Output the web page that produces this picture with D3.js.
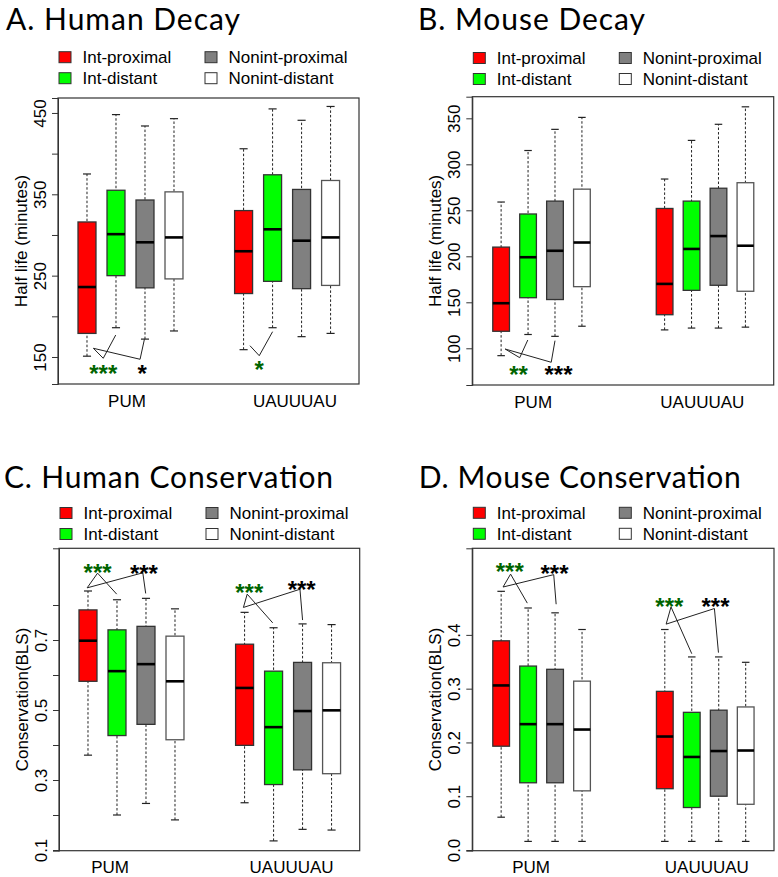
<!DOCTYPE html>
<meta charset="utf-8">
<head>
<style>
  body { margin: 0; background: #fff; }
  svg text { font-family: "Liberation Sans", Arial, sans-serif; }
</style>
</head>
<body>
<script src="https://d3js.org/d3.v7.min.js"></script>
<script>
var groups = ["PUM", "UAUUUAU"];
var series = ["Int-proximal", "Int-distant", "Nonint-proximal", "Nonint-distant"];
var seriesColors = ["#ff0000", "#00ff00", "#808080", "#ffffff"];

// each box: [lower whisker, Q1, median, Q3, upper whisker]; 4 boxes for PUM then 4 for UAUUUAU
var humanDecay = [
  [151, 179, 236, 316, 375],
  [186, 250, 301, 355, 448],
  [172, 235, 291, 343, 434],
  [182, 246, 297, 353, 443],
  [159, 228, 280, 330, 406],
  [186, 243, 307, 374, 455],
  [175, 234, 293, 356, 441],
  [179, 238, 297, 367, 458]
];
var mouseDecay = [
  [92, 118.5, 149, 210, 259],
  [115, 155, 199, 246, 315],
  [113, 153, 206, 260, 338],
  [124, 167, 215, 273, 351],
  [120, 136.5, 170, 252, 284],
  [122, 163, 208, 260, 326],
  [122, 168.5, 222, 274, 343.5],
  [123, 162, 211.5, 280, 362.5]
];
var humanCons = [
  [0.371, 0.582, 0.698, 0.786, 0.840],
  [0.200, 0.427, 0.611, 0.729, 0.815],
  [0.233, 0.459, 0.631, 0.739, 0.819],
  [0.186, 0.415, 0.582, 0.711, 0.789],
  [0.235, 0.399, 0.563, 0.688, 0.779],
  [0.126, 0.287, 0.451, 0.611, 0.735],
  [0.159, 0.329, 0.497, 0.636, 0.746],
  [0.157, 0.318, 0.499, 0.635, 0.744]
];
var mouseCons = [
  [0.061, 0.193, 0.306, 0.389, 0.481],
  [0.016, 0.125, 0.234, 0.342, 0.450],
  [0.016, 0.125, 0.234, 0.336, 0.441],
  [0.016, 0.110, 0.224, 0.314, 0.410],
  [0.016, 0.114, 0.211, 0.295, 0.410],
  [0.016, 0.079, 0.173, 0.256, 0.359],
  [0.016, 0.100, 0.184, 0.260, 0.359],
  [0.016, 0.085, 0.185, 0.266, 0.349]
];

var humanDecayTicks = [150, 200, 250, 300, 350, 400, 450];
var humanDecayTickLabels = ["150", "", "250", "", "350", "", "450"];
var mouseDecayTicks = [100, 150, 200, 250, 300, 350];
var mouseDecayTickLabels = ["100", "150", "200", "250", "300", "350"];
var humanConsTicks = [0.1, 0.2, 0.3, 0.4, 0.5, 0.6, 0.7, 0.8];
var humanConsTickLabels = ["0.1", "", "0.3", "", "0.5", "", "0.7", ""];
var mouseConsTicks = [0.0, 0.1, 0.2, 0.3, 0.4];
var mouseConsTickLabels = ["0.0", "0.1", "0.2", "0.3", "0.4"];

// significance brackets, in box-position units and data values
var humanDecaySig = [
  {vertex: [1.22, 160.7], comps: [
    {corner: [1.56, 148.4], end: [1.99, 177], stars: "***", green: true, at: [1.56, 136.5]},
    {corner: [2.83, 147.2], end: [2.98, 171.8], stars: "*", green: false, at: [2.9, 136.5]}]},
  {vertex: [6.62, 163.9], comps: [
    {corner: [6.94, 151.6], end: [7.40, 181.1], stars: "*", green: true, at: [6.94, 142.3]}]}
];
var mouseDecaySig = [
  {vertex: [1.15, 99.2], comps: [
    {corner: [1.69, 89.8], end: [1.99, 109], stars: "**", green: true, at: [1.65, 77.5]},
    {corner: [2.86, 84.8], end: [3.0, 108.3], stars: "***", green: false, at: [3.13, 77.5]}]}
];
var humanConsSig = [
  {vertex: [0.97, 0.849], comps: [
    {corner: [1.33, 0.891], end: [1.99, 0.831], stars: "***", green: true, at: [1.33, 0.909]},
    {corner: [2.89, 0.892], end: [2.99, 0.833], stars: "***", green: false, at: [2.93, 0.906]}]},
  {vertex: [6.36, 0.793], comps: [
    {corner: [6.49, 0.831], end: [7.37, 0.749], stars: "***", green: true, at: [6.56, 0.852]},
    {corner: [8.31, 0.845], end: [8.40, 0.757], stars: "***", green: false, at: [8.37, 0.862]}]}
];
var mouseConsSig = [
  {vertex: [1.07, 0.489], comps: [
    {corner: [1.35, 0.513], end: [1.97, 0.459], stars: "***", green: true, at: [1.32, 0.529]},
    {corner: [2.95, 0.512], end: [3.04, 0.457], stars: "***", green: false, at: [2.98, 0.525]}]},
  {vertex: [7.12, 0.420], comps: [
    {corner: [7.30, 0.452], end: [8.07, 0.365], stars: "***", green: true, at: [7.24, 0.464]},
    {corner: [8.91, 0.449], end: [9.06, 0.367], stars: "***", green: false, at: [8.95, 0.464]}]}
];

var posNarrow = [1, 2, 3, 4, 6.4, 7.4, 8.4, 9.4];
var posWide = [1, 2, 3, 4, 7.07, 8.07, 9.07, 10.07];

var panels = [
  {title: "A. Human Decay", titleX: 6, titleY: 30, titleW: 234,
   box: humanDecay, ticks: humanDecayTicks, tickLabels: humanDecayTickLabels, sig: humanDecaySig,
   yTitle: "Half life (minutes)", x0: 58, x1: 359, y0: 98, y1: 384,
   xDom: [0, 10.38], yDom: [116.8, 468.4], pos: posNarrow, groupAt: [2.38, 8.17], legY: 51.7},
  {title: "B. Mouse Decay", titleX: 418, titleY: 30, titleW: 227,
   box: mouseDecay, ticks: mouseDecayTicks, tickLabels: mouseDecayTickLabels, sig: mouseDecaySig,
   yTitle: "Half life (minutes)", x0: 472.3, x1: 773.7, y0: 96.7, y1: 385,
   xDom: [-0.07, 11.12], yDom: [60.1, 373.5], pos: posWide, groupAt: [2.19, 8.47], legY: 52.5},
  {title: "C. Human Conservation", titleX: 4, titleY: 487.5, titleW: 329,
   box: humanCons, ticks: humanConsTicks, tickLabels: humanConsTickLabels, sig: humanConsSig,
   yTitle: "Conservation(BLS)", x0: 59, x1: 359.7, y0: 548.3, y1: 850.7,
   xDom: [0, 10.37], yDom: [0.098, 0.962], pos: posNarrow, groupAt: [1.76, 8.02], legY: 507.5},
  {title: "D. Mouse Conservation", titleX: 418.7, titleY: 487.5, titleW: 322,
   box: mouseCons, ticks: mouseConsTicks, tickLabels: mouseConsTickLabels, sig: mouseConsSig,
   yTitle: "Conservation(BLS)", x0: 472.3, x1: 774, y0: 548.3, y1: 850.7,
   xDom: [-0.07, 11.12], yDom: [-0.0013, 0.561], pos: posWide, groupAt: [2.11, 8.63], legY: 507.3}
];

var svg = d3.select("body").append("svg")
  .attr("width", 778)
  .attr("height", 877);

panels.forEach(function(p) {
  var g = svg.append("g");
  var x = d3.scaleLinear().domain(p.xDom).range([p.x0, p.x1]);
  var y = d3.scaleLinear().domain(p.yDom).range([p.y1, p.y0]);
  var bw = x(0.62) - x(0);
  var cap = bw * 0.45;

  // title
  g.append("text")
    .attr("x", p.titleX).attr("y", p.titleY)
    .attr("textLength", p.titleW).attr("lengthAdjust", "spacing")
    .style("font-family", "Lato, 'Open Sans', sans-serif")
    .style("font-size", "30px")
    .text(p.title);

  // legend
  var leg = g.selectAll(".leg").data(series).join("g")
    .attr("transform", function(d, i) {
      var col = i < 2 ? 0 : 1, row = i % 2;
      return "translate(" + (p.x0 + 1 + col * 146) + "," + (p.legY + row * 21) + ")";
    });
  leg.append("rect").attr("width", 12).attr("height", 11)
    .attr("fill", function(d, i) { return seriesColors[i]; })
    .attr("stroke", "#333").attr("stroke-width", 1);
  leg.append("text").attr("x", 23.5).attr("y", 11.5)
    .style("font-size", "17px").text(function(d) { return d; });

  // whiskers
  var b = g.selectAll(".bx").data(p.box).join("g");
  b.append("line")
    .attr("x1", function(d, i) { return x(p.pos[i]); })
    .attr("x2", function(d, i) { return x(p.pos[i]); })
    .attr("y1", function(d) { return y(d[0]); })
    .attr("y2", function(d) { return y(d[4]); })
    .attr("stroke", "#222").attr("stroke-dasharray", "2.5,2");
  [0, 4].forEach(function(k) {
    b.append("line")
      .attr("x1", function(d, i) { return x(p.pos[i]) - cap / 2; })
      .attr("x2", function(d, i) { return x(p.pos[i]) + cap / 2; })
      .attr("y1", function(d) { return y(d[k]); })
      .attr("y2", function(d) { return y(d[k]); })
      .attr("stroke", "#222").attr("stroke-width", 1.2);
  });
  b.append("rect")
    .attr("x", function(d, i) { return x(p.pos[i]) - bw / 2; })
    .attr("width", bw)
    .attr("y", function(d) { return y(d[3]); })
    .attr("height", function(d) { return y(d[1]) - y(d[3]); })
    .attr("fill", function(d, i) { return seriesColors[i % 4]; })
    .attr("stroke", function(d, i) { return i % 4 == 3 ? "#555" : "#333"; })
    .attr("stroke-width", 1.3);
  b.append("line")
    .attr("x1", function(d, i) { return x(p.pos[i]) - bw / 2; })
    .attr("x2", function(d, i) { return x(p.pos[i]) + bw / 2; })
    .attr("y1", function(d) { return y(d[2]); })
    .attr("y2", function(d) { return y(d[2]); })
    .attr("stroke", "#000").attr("stroke-width", 2.6);

  // significance brackets
  p.sig.forEach(function(s) {
    s.comps.forEach(function(c) {
      g.append("polyline")
        .attr("points", [s.vertex, c.corner, c.end].map(function(pt) {
          return x(pt[0]) + "," + y(pt[1]);
        }).join(" "))
        .attr("fill", "none").attr("stroke", "#222").attr("stroke-width", 1);
      g.append("text")
        .attr("x", x(c.at[0])).attr("y", y(c.at[1]))
        .attr("dy", "0.6em")
        .attr("text-anchor", "middle")
        .style("font-size", "24px").style("font-weight", "bold")
        .attr("fill", c.green ? "#006400" : "#000")
        .text(c.stars);
    });
  });

  // plot frame
  g.append("rect")
    .attr("x", p.x0).attr("y", p.y0)
    .attr("width", p.x1 - p.x0).attr("height", p.y1 - p.y0)
    .attr("fill", "none").attr("stroke", "#333").attr("stroke-width", 1.2);

  // y axis
  var ax = g.append("g").attr("transform", "translate(" + p.x0 + ",0)")
    .call(d3.axisLeft(y).tickValues(p.ticks).tickSize(6).tickPadding(0)
      .tickFormat(function(d, i) { return p.tickLabels[i]; }));
  ax.select(".domain").attr("stroke", "#333");
  ax.selectAll(".tick line").attr("stroke", "#333");
  ax.selectAll(".tick text")
    .attr("x", null).attr("dy", null)
    .attr("transform", "translate(-12,0) rotate(-90)")
    .attr("text-anchor", "middle")
    .attr("fill", "#000")
    .style("font-size", "17px")
    .style("font-family", "'Liberation Sans', Arial, sans-serif");

  g.append("text")
    .attr("transform", "translate(" + (p.x0 - 31.5) + "," + ((p.y0 + p.y1) / 2) + ") rotate(-90)")
    .attr("text-anchor", "middle")
    .style("font-size", "17px")
    .text(p.yTitle);

  // group labels
  g.selectAll(".grp").data(groups).join("text")
    .attr("x", function(d, i) { return x(p.groupAt[i]); })
    .attr("y", p.y1 + 22.5)
    .attr("text-anchor", "middle")
    .style("font-size", "17px")
    .text(function(d) { return d; });
});
</script>
</body>
